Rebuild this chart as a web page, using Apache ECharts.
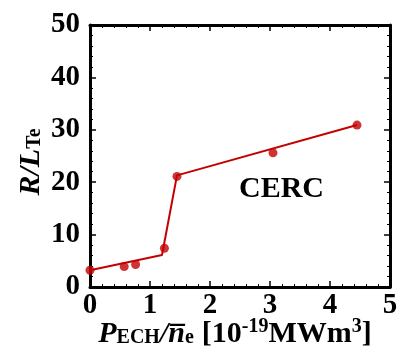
<!DOCTYPE html>
<html>
<head>
<meta charset="utf-8">
<script src="https://cdn.jsdelivr.net/npm/echarts@6/dist/echarts.min.js"></script>
<style>
  html, body { margin: 0; padding: 0; background: #fff; }
  #chart { width: 402px; height: 354px; }
</style>
</head>
<body>
<div id="chart"></div>
<script>
// measured points
const powerX = [0, 0.57, 0.76, 1.24, 1.45, 3.05, 4.45]
const gradY = [3.2, 3.9, 4.3, 7.4, 21.1, 25.6, 30.9]
// piecewise fit line
const fitX = [0, 1.2, 1.45, 4.45]
const fitY = [3.2, 6.1, 21.3, 30.9]

const red = '#c40000'
const serif = '"Liberation Serif", "DejaVu Serif", serif'

const chart = echarts.init(document.getElementById('chart'))

function axisBase(show) {
  return {
    type: 'value',
    nameMoveOverlap: false,
    axisLine: { show: true, onZero: false, lineStyle: { color: '#000', width: 3 } },
    axisTick: { show: true, inside: true, length: 6, lineStyle: { color: '#000', width: 1.5 } },
    minorTick: { show: true, splitNumber: 5, length: 3, lineStyle: { color: '#000', width: 1 } },
    splitLine: { show: false },
    axisLabel: {
      show: show,
      color: '#000',
      fontFamily: serif,
      fontWeight: 'bold',
      fontSize: 29,
      margin: 4
    }
  }
}

const txt = (size, extra) => Object.assign({ fontFamily: serif, fontSize: size, fontWeight: 'bold', color: '#000' }, extra)

chart.setOption({
  animation: false,
  grid: { left: 90, top: 25, right: 12, bottom: 67, outerBoundsMode: 'none' },
  xAxis: [
    Object.assign(axisBase(true), {
      min: 0, max: 5, interval: 1, position: 'bottom',
      name: '{pi|P}{sub|ECH}{i|/n\u0305}{sub|e}{br|[10}{sup|-19}{b|MWm}{sup|3}{b|]}',
      nameLocation: 'middle',
      nameGap: 30,
      nameTextStyle: {
        padding: [0, 10, 0, 0],
        rich: {
          pi: txt(30, { fontStyle: 'italic' }),
          i: txt(30, { fontStyle: 'italic' }),
          b: txt(30),
          br: txt(30, { padding: [0, 0, 0, 8] }),
          sub: txt(20, { padding: [8, 0, 0, 0] }),
          sup: txt(20, { padding: [0, 0, 14, 0] })
        }
      }
    }),
    Object.assign(axisBase(false), { min: 0, max: 5, interval: 1, position: 'top' })
  ],
  yAxis: [
    Object.assign(axisBase(true), {
      min: 0, max: 50, interval: 10, position: 'left',
      axisLabel: Object.assign(axisBase(true).axisLabel, { margin: 10, padding: [0, 0, 6, 0] }),
      name: '{i|R/L}{sub|Te}',
      nameLocation: 'middle',
      nameRotate: 90,
      nameGap: 44,
      nameTextStyle: {
        padding: [0, 12, 0, 0],
        rich: {
          i: txt(30, { fontStyle: 'italic' }),
          sub: txt(20, { padding: [8, 0, 0, 0] })
        }
      }
    }),
    Object.assign(axisBase(false), { min: 0, max: 50, interval: 10, position: 'right' })
  ],
  graphic: [
    {
      type: 'text',
      left: 239,
      top: 174,
      style: {
        text: 'CERC',
        font: 'bold 30px ' + serif,
        fill: '#000'
      }
    }
  ],
  series: [
    {
      type: 'line',
      data: fitX.map((x, k) => [x, fitY[k]]),
      showSymbol: false,
      lineStyle: { color: red, width: 2 },
      z: 3
    },
    {
      type: 'scatter',
      data: powerX.map((x, k) => [x, gradY[k]]),
      symbolSize: 9,
      itemStyle: { color: red },
      z: 4
    }
  ]
})
</script>
</body>
</html>
